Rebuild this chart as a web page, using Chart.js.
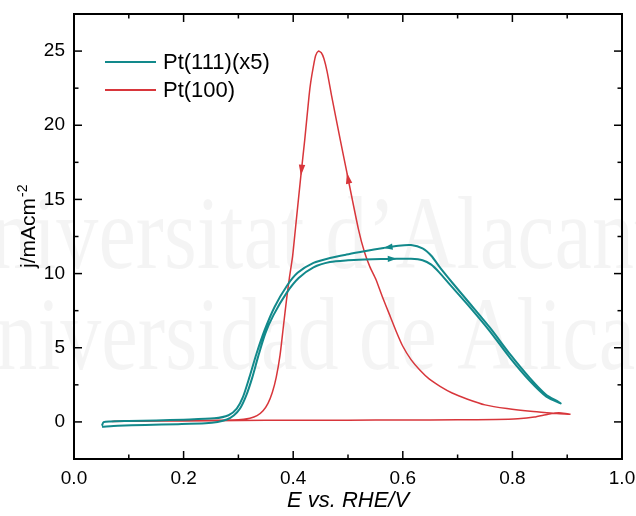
<!DOCTYPE html>
<html>
<head>
<meta charset="utf-8">
<script src="https://cdn.jsdelivr.net/npm/chart.js@4.4.0/dist/chart.umd.min.js"></script>
<style>
  html, body { margin: 0; padding: 0; background: #fff; }
</style>
</head>
<body>
<canvas id="cv" width="636" height="516"></canvas>
<script>
// Pt(111) (x5) CV, positive-going scan then negative-going scan
const pt111E = [0.051, 0.08, 0.13, 0.19, 0.24, 0.262, 0.279, 0.292, 0.303, 0.314, 0.325, 0.336, 0.349, 0.364, 0.388, 0.41, 0.437, 0.467, 0.5, 0.53, 0.56, 0.589, 0.615, 0.636, 0.652, 0.666, 0.686, 0.723, 0.759, 0.796, 0.832, 0.862, 0.888,
                0.884, 0.861, 0.832, 0.796, 0.759, 0.723, 0.69, 0.668, 0.652, 0.636, 0.615, 0.592, 0.565, 0.53, 0.497, 0.467, 0.437, 0.408, 0.388, 0.366, 0.348, 0.333, 0.32, 0.308, 0.297, 0.282, 0.256, 0.2, 0.15, 0.1, 0.066, 0.054, 0.051];
const pt111J = [-0.32, -0.26, -0.2, -0.15, -0.09, 0.0, 0.16, 0.45, 0.9, 1.75, 2.95, 4.4, 5.95, 7.2, 8.7, 9.7, 10.42, 10.78, 10.9, 10.95, 10.98, 11.0, 11.0, 10.9, 10.6, 10.1, 9.25, 7.7, 6.1, 4.3, 2.75, 1.7, 1.25,
                1.35, 1.85, 2.95, 4.55, 6.35, 7.95, 9.4, 10.4, 11.2, 11.7, 11.92, 11.88, 11.73, 11.5, 11.28, 11.05, 10.72, 10.05, 9.15, 7.75, 6.2, 4.6, 3.0, 1.65, 0.9, 0.45, 0.24, 0.15, 0.1, 0.06, 0.03, -0.02, -0.25];

// Pt(100) CV, positive-going scan then negative-going scan
const pt100E = [0.069, 0.12, 0.2, 0.3, 0.4, 0.5, 0.6, 0.7, 0.77, 0.81, 0.84, 0.865, 0.885, 0.905,
                0.875, 0.838, 0.79, 0.75, 0.717, 0.69, 0.668, 0.648, 0.631, 0.615, 0.6, 0.588, 0.575, 0.562, 0.551, 0.54, 0.53, 0.519, 0.498, 0.486, 0.47, 0.462, 0.456, 0.451, 0.446, 0.441, 0.437, 0.432,
                0.429, 0.421, 0.414, 0.404, 0.399, 0.393, 0.388, 0.382, 0.376, 0.369, 0.362, 0.354, 0.345, 0.334, 0.321, 0.3, 0.2, 0.12, 0.072];
const pt100J = [0.03, 0.05, 0.07, 0.1, 0.11, 0.12, 0.13, 0.14, 0.17, 0.22, 0.33, 0.52, 0.62, 0.52,
                0.59, 0.7, 0.9, 1.15, 1.55, 1.95, 2.4, 2.9, 3.5, 4.2, 5.1, 6.1, 7.3, 8.5, 9.6, 10.45, 11.45, 13.0, 16.8, 19.0, 22.0, 23.6, 24.5, 24.9, 25.0, 24.7, 24.0, 22.9,
                22.0, 19.0, 16.6, 13.0, 11.2, 9.7, 8.3, 6.4, 4.5, 3.0, 2.0, 1.25, 0.75, 0.42, 0.25, 0.14, 0.08, 0.05, 0.04];

const seriesLabels = ['Pt(111)(x5)', 'Pt(100)'];
const seriesColors = ['#12898b', '#d8363b'];
const xTicks = [0.0, 0.2, 0.4, 0.6, 0.8, 1.0];
const yTicks = [0, 5, 10, 15, 20, 25];

// scan direction arrows: tip sits on the listed point of the series
const arrows = [
  {series: 1, e: 0.414, j: 16.6},
  {series: 1, e: 0.498, j: 16.8},
  {series: 0, e: 0.589, j: 11.0},
  {series: 0, e: 0.565, j: 11.73}
];

const toPoints = (xs, ys) => xs.map((v, i) => ({x: v, y: ys[i]}));

Chart.defaults.font.family = '"Liberation Sans", Arial, sans-serif';
Chart.defaults.color = '#000';

const decor = {
  id: 'decor',
  beforeDraw(chart) {
    const ctx = chart.ctx;
    ctx.save();
    ctx.fillStyle = '#fff';
    ctx.fillRect(0, 0, chart.width, chart.height);
    // faint watermark
    ctx.fillStyle = 'rgba(0,0,0,0.045)';
    ctx.font = '104px "Liberation Serif", serif';
    ctx.textBaseline = 'alphabetic';
    ctx.save(); ctx.translate(-70, 268); ctx.scale(0.81, 1); ctx.fillText('Universitat d\u2019Alacant', 0, 0); ctx.restore();
    ctx.save(); ctx.translate(-63, 369); ctx.scale(0.79, 1); ctx.fillText('Universidad de Alicante', 0, 0); ctx.restore();
    ctx.restore();
  },
  afterDatasetsDraw(chart) {
    const ctx = chart.ctx;
    const sx = chart.scales.x, sy = chart.scales.y;
    ctx.save();
    arrows.forEach(a => {
      const data = chart.data.datasets[a.series].data;
      const i = data.findIndex(p => p.x === a.e && p.y === a.j);
      if (i < 1) return;
      const tx = sx.getPixelForValue(data[i].x), ty = sy.getPixelForValue(data[i].y);
      const px = sx.getPixelForValue(data[i - 1].x), py = sy.getPixelForValue(data[i - 1].y);
      let dx = tx - px, dy = ty - py;
      const d = Math.hypot(dx, dy); dx /= d; dy /= d;
      const len = a.series === 1 ? 11 : 9, hw = 3.2;
      const bx = tx - dx * len, by = ty - dy * len;
      ctx.fillStyle = seriesColors[a.series];
      ctx.beginPath();
      ctx.moveTo(tx, ty);
      ctx.lineTo(bx - dy * hw, by + dx * hw);
      ctx.lineTo(bx + dy * hw, by - dx * hw);
      ctx.closePath();
      ctx.fill();
    });
    ctx.restore();
  },
  afterDraw(chart) {
    const ctx = chart.ctx;
    const a = chart.chartArea;
    const sx = chart.scales.x, sy = chart.scales.y;
    ctx.save();
    ctx.strokeStyle = '#000';
    ctx.lineWidth = 1.5;
    const tick = (x1, y1, x2, y2) => { ctx.beginPath(); ctx.moveTo(x1, y1); ctx.lineTo(x2, y2); ctx.stroke(); };
    xTicks.forEach((v, i) => {
      const p = sx.getPixelForValue(v);
      tick(p, a.bottom, p, a.bottom - 8);
      tick(p, a.top, p, a.top + 8);
      if (i < xTicks.length - 1) {
        const m = sx.getPixelForValue((v + xTicks[i + 1]) / 2);
        tick(m, a.bottom, m, a.bottom - 4.5);
        tick(m, a.top, m, a.top + 4.5);
      }
    });
    yTicks.forEach(v => {
      const p = sy.getPixelForValue(v);
      tick(a.left, p, a.left + 8, p);
      tick(a.right, p, a.right - 8, p);
      const m = sy.getPixelForValue(v + 2.5);
      tick(a.left, m, a.left + 4.5, m);
      tick(a.right, m, a.right - 4.5, m);
    });
    ctx.lineWidth = 2;
    ctx.strokeRect(a.left, a.top, a.right - a.left, a.bottom - a.top);

    // legend
    ctx.font = '22px "Liberation Sans", Arial, sans-serif';
    ctx.textBaseline = 'middle';
    ctx.fillStyle = '#000';
    seriesLabels.forEach((lab, i) => {
      const yy = 62 + i * 28;
      ctx.strokeStyle = seriesColors[i];
      ctx.lineWidth = 2;
      tick(105, yy, 156, yy);
      ctx.fillText(lab, 163, yy + 1);
    });

    // axis titles
    ctx.textBaseline = 'alphabetic';
    ctx.textAlign = 'center';
    ctx.font = 'italic 22px "Liberation Sans", Arial, sans-serif';
    ctx.fillText('E vs. RHE/V', (a.left + a.right) / 2, 507);

    ctx.save();
    ctx.translate(35, 268);
    ctx.rotate(-Math.PI / 2);
    ctx.textAlign = 'left';
    ctx.font = '21px "Liberation Sans", Arial, sans-serif';
    ctx.fillText('j/mAcm', 0, 0);
    const w = ctx.measureText('j/mAcm').width;
    ctx.font = '14px "Liberation Sans", Arial, sans-serif';
    ctx.fillText('-2', w + 1, -8);
    ctx.restore();
    ctx.restore();
  }
};

new Chart(document.getElementById('cv'), {
  type: 'scatter',
  data: {
    datasets: [
      {label: seriesLabels[0], data: toPoints(pt111E, pt111J), showLine: true, borderColor: seriesColors[0], borderWidth: 2, pointRadius: 0, tension: 0.25},
      {label: seriesLabels[1], data: toPoints(pt100E, pt100J), showLine: true, borderColor: seriesColors[1], borderWidth: 1.5, pointRadius: 0, tension: 0.2}
    ]
  },
  options: {
    responsive: false,
    animation: false,
    layout: {padding: {left: 0, right: 14, top: 14, bottom: 0}},
    plugins: {legend: {display: false}, tooltip: {enabled: false}},
    scales: {
      x: {
        type: 'linear', min: 0, max: 1.0,
        grid: {display: false, drawTicks: false},
        border: {display: false},
        afterBuildTicks: s => { s.ticks = xTicks.map(v => ({value: v})); },
        afterFit: s => { s.height = 57; s.paddingLeft = 0; s.paddingRight = 0; },
        ticks: {font: {size: 19}, padding: 8, maxRotation: 0, callback: v => v.toFixed(1)}
      },
      y: {
        type: 'linear', min: -2.5, max: 27.5,
        grid: {display: false, drawTicks: false},
        border: {display: false},
        afterBuildTicks: s => { s.ticks = yTicks.map(v => ({value: v})); },
        afterFit: s => { s.width = 74; s.paddingTop = 0; s.paddingBottom = 0; },
        ticks: {font: {size: 19}, padding: 9, callback: v => String(v)}
      }
    }
  },
  plugins: [decor]
});
</script>
</body>
</html>
